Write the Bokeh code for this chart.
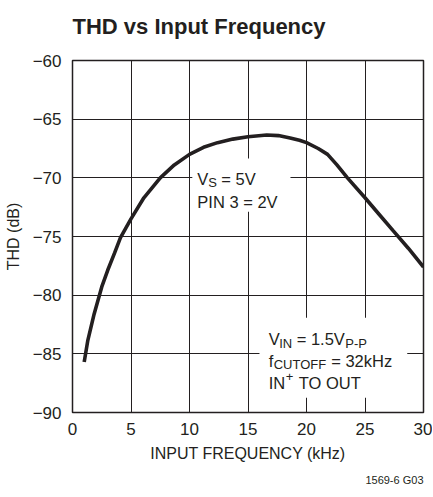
from bokeh.plotting import figure
from bokeh.models import Range1d, FixedTicker, Label, Title
from bokeh.embed import file_html
from bokeh.resources import INLINE

FONT = "Liberation Sans"

# ---- data ----
freq_khz = [1.0, 1.3, 1.85, 2.5, 3.0, 3.6, 4.1, 5.0, 6.1, 7.5, 8.7, 10.0, 11.2, 12.4,
            13.7, 15.0, 16.6, 17.6, 18.6, 19.4, 20.0, 21.0, 21.8, 22.6, 23.5, 25.0,
            26.2, 27.4, 28.7, 30.0]
thd_db = [-85.7, -83.9, -81.6, -79.3, -77.9, -76.4, -75.1, -73.5, -71.7, -70.0, -68.9,
          -68.0, -67.4, -67.0, -66.7, -66.5, -66.35, -66.4, -66.6, -66.8, -67.0, -67.5,
          -68.0, -68.9, -70.0, -71.7, -73.1, -74.5, -76.0, -77.6]

x_ticks = [0, 5, 10, 15, 20, 25, 30]
y_ticks = [-90, -85, -80, -75, -70, -65, -60]
y_tick_labels = ["−90", "−85", "−80", "−75", "−70", "−65", "−60"]

TITLE = "THD vs Input Frequency"

# annotation boxes (data units): left, right, top, bottom
box_left = [10.24, 15.98]
box_right = [18.63, 28.61]
box_top = [-68.36, -81.93]
box_bottom = [-72.88, -88.75]

MAIN = "16.5px"
SUB = "13px"
# annotation fragments: (x, y, x_offset px, y_offset px, text, size)
fragments = [
    (10.67, -70.09, 0, 0, "V", MAIN),
    (10.67, -70.09, 11.0, -4, "S", SUB),
    (10.67, -70.09, 24.0, 0, "= 5V", MAIN),
    (10.67, -72.09, 0, 0, "PIN 3 = 2V", MAIN),
    (16.77, -83.76, 0, 0, "V", MAIN),
    (16.77, -83.76, 10.5, -4, "IN", SUB),
    (16.77, -83.76, 28.0, 0, "= 1.5V", MAIN),
    (16.77, -83.76, 76.5, -4, "P-P", SUB),
    (16.77, -85.60, 0, 0, "f", MAIN),
    (16.77, -85.60, 5.0, -4, "CUTOFF", SUB),
    (16.77, -85.60, 62.5, 0, "= 32kHz", MAIN),
    (16.77, -87.47, 0, 0, "IN", MAIN),
    (16.77, -87.47, 17.0, 6, "+", SUB),
    (16.77, -87.47, 30.0, 0, "TO OUT", MAIN),
]

p = figure(width=432, height=495, title=None,
           x_range=Range1d(0, 30), y_range=Range1d(-90, -60),
           output_backend="svg", toolbar_location=None,
           min_border_left=72, min_border_right=9,
           min_border_top=60, min_border_bottom=83,
           background_fill_color="white", border_fill_color="white")

for ax in (p.xaxis[0], p.yaxis[0]):
    ax.major_tick_line_color = None
    ax.minor_tick_line_color = None
    ax.axis_line_color = None
    ax.major_label_text_font = FONT
    ax.major_label_text_font_size = "17px"
    ax.major_label_text_color = "#231f20"
    ax.axis_label_text_font = FONT
    ax.axis_label_text_font_size = "16px"
    ax.axis_label_text_font_style = "normal"
    ax.axis_label_text_color = "#231f20"
    ax.major_tick_in = 0
    ax.major_tick_out = 0

p.xaxis.ticker = FixedTicker(ticks=x_ticks)
p.yaxis.ticker = FixedTicker(ticks=y_ticks)
p.yaxis.major_label_overrides = {t: s for t, s in zip(y_ticks, y_tick_labels)}
p.xaxis.axis_label = "INPUT FREQUENCY (kHz)"
p.yaxis.axis_label = "THD (dB)"
p.xaxis.major_label_standoff = 10
p.yaxis.major_label_standoff = 11
p.xaxis.axis_label_standoff = 7
p.yaxis.axis_label_standoff = 8

p.grid.grid_line_color = "#231f20"
p.grid.grid_line_width = 1
p.grid.grid_line_alpha = 1.0
p.outline_line_color = "#231f20"
p.outline_line_width = 1.5

# white boxes behind annotations (hide grid)
p.quad(left=box_left, right=box_right, top=box_top, bottom=box_bottom,
       fill_color="white", line_color=None)

p.line(freq_khz, thd_db, line_color="#231f20", line_width=3.6)

for x, y, xo, yo, txt, size in fragments:
    p.add_layout(Label(x=x, y=y, x_offset=xo, y_offset=yo, text=txt,
                       text_font=FONT, text_font_size=size,
                       text_color="#231f20", text_baseline="alphabetic",
                       text_align="left"))

# spacer between frame and title, then the title itself (outermost)
p.add_layout(Title(text=" ", text_font_size="1px", standoff=9), "above")
p.add_layout(Title(text=TITLE, align="left", text_font=FONT,
                   text_font_size="22px", text_font_style="bold",
                   text_color="#231f20", standoff=20), "above")

p.add_layout(Title(text="1569-6 G03", align="right", text_font=FONT,
                   text_font_size="11px", text_font_style="normal",
                   text_color="#231f20", standoff=15), "below")

open("out.html", "w").write(file_html(p, INLINE))
